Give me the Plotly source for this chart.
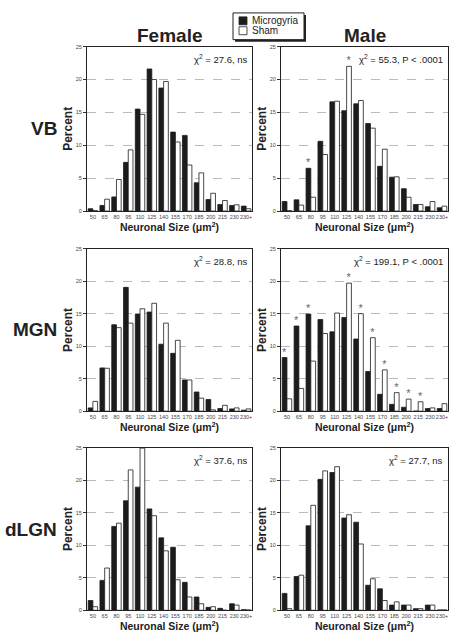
import plotly.graph_objects as go

categories = ["50", "65", "80", "95", "110", "125", "140", "155", "170", "185", "200", "215", "230", "230+"]

# VB
vb_female_micro = [0.35, 0.85, 2.15, 7.4, 15.5, 21.6, 18.7, 12.0, 11.5, 4.3, 1.75, 1.0, 0.85, 0.75]
vb_female_sham = [0.05, 1.8, 4.8, 9.3, 14.7, 20.0, 19.7, 10.5, 7.0, 5.8, 2.7, 1.6, 0.95, 0.35]
vb_male_micro = [1.45, 1.7, 6.5, 10.6, 16.6, 15.25, 16.3, 13.3, 6.8, 5.15, 3.4, 1.0, 0.65, 0.5]
vb_male_sham = [0.05, 0.9, 2.1, 8.6, 16.7, 22.0, 16.8, 12.6, 9.4, 5.2, 2.1, 1.0, 1.45, 0.75]
vb_male_micro_sig = ["", "", "*", "", "", "", "", "", "", "", "", "", "", ""]
vb_male_sham_sig = ["", "", "", "", "", "*", "", "", "", "", "", "", "", ""]

# MGN
mgn_female_micro = [0.5, 6.65, 13.3, 19.05, 14.95, 15.25, 10.3, 8.9, 4.8, 2.95, 1.8, 0.4, 0.35, 0.15]
mgn_female_sham = [1.5, 6.6, 12.85, 13.55, 15.75, 16.6, 13.55, 10.9, 4.8, 2.0, 0.2, 0.9, 0.5, 0.35]
mgn_male_micro = [8.25, 13.1, 14.95, 14.1, 12.2, 14.4, 11.1, 6.1, 2.6, 1.05, 0.6, 0.0, 0.4, 0.4]
mgn_male_sham = [1.9, 3.5, 7.7, 11.95, 15.1, 19.7, 15.0, 11.3, 6.35, 2.85, 1.85, 1.45, 0.5, 1.15]
mgn_male_micro_sig = ["*", "*", "*", "", "", "", "", "", "", "", "", "", "", ""]
mgn_male_sham_sig = ["", "", "", "", "", "*", "*", "*", "*", "*", "*", "*", "", ""]

# dLGN
dlgn_female_micro = [1.5, 4.6, 12.9, 16.85, 18.95, 15.6, 11.15, 9.7, 4.3, 2.05, 0.45, 0.3, 1.0, 0.1]
dlgn_female_sham = [0.55, 6.5, 13.4, 21.6, 24.95, 14.55, 9.15, 4.7, 2.05, 1.0, 0.55, 0.0, 0.8, 0.05]
dlgn_male_micro = [2.6, 5.2, 13.0, 20.15, 21.2, 14.2, 13.55, 3.85, 3.3, 0.8, 0.8, 0.25, 0.8, 0.05]
dlgn_male_sham = [0.25, 5.4, 16.15, 21.45, 22.1, 14.7, 10.2, 4.85, 1.5, 1.3, 0.8, 0.25, 0.8, 0.05]

chi_labels = [
    "χ<sup>2</sup> = 27.6, ns", "χ<sup>2</sup> = 55.3, P < .0001",
    "χ<sup>2</sup> = 28.8, ns", "χ<sup>2</sup> = 199.1, P < .0001",
    "χ<sup>2</sup> = 37.6, ns", "χ<sup>2</sup> = 27.7, ns",
]
row_labels = ["VB", "MGN", "dLGN"]
col_labels = ["Female", "Male"]
series_names = ["Microgyria", "Sham"]
series_colors = ["#1c1c1c", "white"]

blank = [""] * len(categories)
panels = [
    (vb_female_micro, vb_female_sham, blank, blank),
    (vb_male_micro, vb_male_sham, vb_male_micro_sig, vb_male_sham_sig),
    (mgn_female_micro, mgn_female_sham, blank, blank),
    (mgn_male_micro, mgn_male_sham, mgn_male_micro_sig, mgn_male_sham_sig),
    (dlgn_female_micro, dlgn_female_sham, blank, blank),
    (dlgn_male_micro, dlgn_male_sham, blank, blank),
]

W, H = 457, 643
FONT = "Liberation Sans, Arial, Helvetica, sans-serif"
x_domains = [(87 / W, 252 / W), (281 / W, 448 / W)]
row_px = [(44, 210), (248, 412), (449, 613)]
y_domains = [(1 - b / H, 1 - t / H) for t, b in row_px]


def px(xp, yp):
    return xp / W, 1 - yp / H


fig = go.Figure()
layout = dict(
    width=W, height=H,
    margin=dict(l=0, r=0, t=0, b=0),
    paper_bgcolor="white", plot_bgcolor="white",
    font=dict(family=FONT, color="#222"),
    barmode="group", bargap=0.2, bargroupgap=0.0,
    showlegend=False,
    annotations=[], shapes=[],
)

for i, (micro, sham, micro_sig, sham_sig) in enumerate(panels):
    r, c = divmod(i, 2)
    n = i + 1
    xa = "x" if n == 1 else f"x{n}"
    ya = "y" if n == 1 else f"y{n}"
    for vals, sig, name, fill in ((micro, micro_sig, series_names[0], series_colors[0]),
                                  (sham, sham_sig, series_names[1], series_colors[1])):
        fig.add_trace(go.Bar(
            x=categories, y=vals, name=name, xaxis=xa, yaxis=ya,
            marker=dict(color=fill, line=dict(color="#1c1c1c", width=0.8)),
            text=sig, textposition="outside", constraintext="none",
            outsidetextfont=dict(size=11, color="#666", family=FONT),
            cliponaxis=False, hoverinfo="x+y",
        ))
    xkey = "xaxis" if n == 1 else f"xaxis{n}"
    ykey = "yaxis" if n == 1 else f"yaxis{n}"
    layout[xkey] = dict(
        domain=x_domains[c], anchor=ya, type="category",
        categoryorder="array", categoryarray=categories,
        tickfont=dict(size=5.5, color="#444"), ticks="", ticklen=0, tickangle=0,
        showline=True, mirror=True, linecolor="#222", linewidth=1.3,
        showgrid=False,
        title=dict(text="Neuronal Size (μm<sup>2</sup>)",
                   font=dict(size=10.5, weight="bold", color="#222"), standoff=2),
    )
    layout[ykey] = dict(
        domain=y_domains[r], anchor=xa, range=[0, 25],
        tickvals=[0, 5, 10, 15, 20, 25], tickfont=dict(size=5.5, color="#444"),
        ticks="outside", ticklen=3, tickwidth=0.8, tickcolor="#333",
        showline=True, mirror=True, linecolor="#222", linewidth=1.3,
        showgrid=True, gridcolor="#bbbbbb", griddash="dash", gridwidth=0.6,
        zeroline=False,
        title=dict(text="Percent", font=dict(size=12, weight="bold", color="#222"), standoff=0),
    )
    layout["annotations"].append(dict(
        text=chi_labels[i], xref=f"{xa} domain", yref=f"{ya} domain",
        x=0.985, y=0.975, xanchor="right", yanchor="top", showarrow=False,
        font=dict(size=9.5, color="#222", family=FONT),
    ))

for r, lab in enumerate(row_labels):
    t, b = row_px[r]
    layout["annotations"].append(dict(
        text=lab, xref="paper", yref="paper", x=59 / W, y=1 - ((t + b) / 2) / H,
        xanchor="right", yanchor="middle", showarrow=False,
        font=dict(size=19, weight="bold", color="#222", family=FONT),
    ))
for c, lab in enumerate(col_labels):
    layout["annotations"].append(dict(
        text=lab, xref="paper", yref="paper", x=sum(x_domains[c]) / 2, y=1 - 33 / H,
        xanchor="center", yanchor="middle", showarrow=False,
        font=dict(size=19, weight="bold", color="#222", family=FONT),
    ))

# legend box (drawn as layout decoration)
x0, y0 = px(233, 10)
x1, y1 = px(304, 37)
sx0, sy0 = px(235, 12)
sx1, sy1 = px(306, 39)
layout["shapes"].append(dict(type="rect", xref="paper", yref="paper", x0=sx0, y0=sy0, x1=sx1, y1=sy1,
                             fillcolor="#222", line=dict(width=0), layer="above"))
layout["shapes"].append(dict(type="rect", xref="paper", yref="paper", x0=x0, y0=y0, x1=x1, y1=y1,
                             fillcolor="white", line=dict(color="#222", width=1), layer="above"))
for k, (name, col) in enumerate(zip(series_names, series_colors)):
    cy = 18 + 10 * k
    a0, b0 = px(239, cy - 4)
    a1, b1 = px(247, cy + 4)
    layout["shapes"].append(dict(type="rect", xref="paper", yref="paper", x0=a0, y0=b0, x1=a1, y1=b1,
                                 fillcolor=col, line=dict(color="#222", width=0.8), layer="above"))
    tx, ty = px(250, cy)
    layout["annotations"].append(dict(
        text=name, xref="paper", yref="paper", x=tx, y=ty, xanchor="left", yanchor="middle",
        showarrow=False, font=dict(size=10, color="#222", family=FONT),
    ))

fig.update_layout(**layout)
fig.write_html("out.html", config={"displayModeBar": False},
               post_script="document.body.style.margin='0';document.body.style.overflow='hidden';")
